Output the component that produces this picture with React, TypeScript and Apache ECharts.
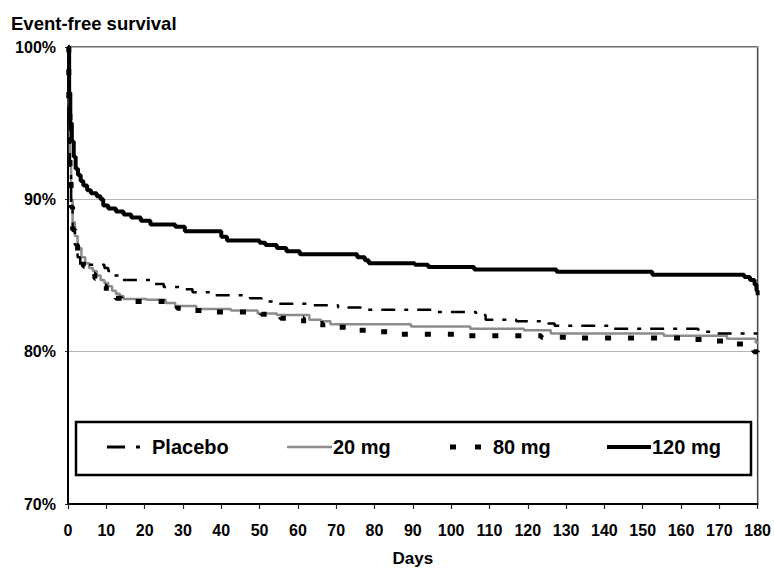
import React, { useEffect, useRef } from "react";
import * as echarts from "echarts";

// ---- data (day, event-free survival %) ----
const seriesNames = ["Placebo", "20 mg", "80 mg", "120 mg"];

const placeboPoints: [number, number][] = [
  [0, 100], [0.2, 96], [0.5, 92], [0.8, 89.5], [1.2, 88], [1.8, 87], [2.5, 86.2],
  [3.2, 85.7], [9.5, 85.5], [10.5, 85.3], [11.5, 85.0], [13.5, 84.7], [21.5, 84.45],
  [25, 84.25], [29, 84.1], [32.5, 83.9], [38.5, 83.7], [47.5, 83.5], [50.5, 83.3],
  [55, 83.15], [63, 83.05], [70.5, 82.9], [77.5, 82.75], [95.5, 82.6], [106.5, 82.4],
  [109, 82.1], [117, 82.0], [123.5, 81.85], [127, 81.7], [141.5, 81.5], [164.5, 81.3],
  [169.5, 81.2], [180, 81.2],
];

const mg20Points: [number, number][] = [
  [0, 100], [0.2, 96], [0.5, 92.5], [0.8, 90], [1.2, 88.5], [1.8, 87.6], [2.5, 86.8],
  [3.5, 86.2], [4.5, 85.8], [5.5, 85.5], [6.5, 85.3], [7.5, 85.0], [8.5, 84.7],
  [9.5, 84.5], [10.5, 84.3], [11.5, 84.0], [12.5, 83.8], [13.5, 83.65], [14.5, 83.45],
  [20.5, 83.4], [25.5, 83.2], [28, 83.0], [33.5, 82.8], [42.5, 82.7], [49.5, 82.5],
  [54.5, 82.4], [63, 82.1], [66, 82.0], [68.5, 81.8], [89.5, 81.65], [105, 81.5],
  [119, 81.4], [126, 81.2], [155.5, 81.05], [172, 80.85], [179.5, 80.6], [180, 80.5],
];

const mg80Points: [number, number][] = [
  [0, 100], [0.2, 96], [0.5, 92], [0.8, 89.5], [1.2, 88], [1.8, 87], [2.5, 86.4],
  [3.2, 86.0], [4, 85.6], [5, 85.3], [6, 85.1], [7, 84.8], [8, 84.5], [9, 84.3],
  [10, 84.0], [11, 83.8], [12.5, 83.5], [14, 83.3], [26.5, 83.1], [28.5, 82.85],
  [32, 82.7], [37, 82.6], [50.5, 82.45], [55.5, 82.2], [61.5, 81.85], [66.5, 81.6],
  [72.5, 81.4], [79, 81.3], [85, 81.15], [103.5, 81.05], [123.5, 80.95], [130, 80.9],
  [161.5, 80.8], [167.5, 80.7], [173.5, 80.5], [177, 80.3], [179, 80.0], [180, 79.7],
];

const mg120Points: [number, number][] = [
  [0, 100], [0.3, 97], [0.6, 95], [1, 93.8], [1.5, 92.8], [2, 92], [2.6, 91.6],
  [3.3, 91.2], [4, 90.9], [5, 90.6], [6, 90.4], [7.5, 90.2], [8.5, 90.0], [9.2, 89.6],
  [10.5, 89.4], [12.5, 89.2], [14.5, 89.0], [16.5, 88.8], [19, 88.6], [21.5, 88.35],
  [28, 88.2], [30.5, 87.9], [40, 87.55], [41.5, 87.3], [50, 87.15], [51.5, 87.0],
  [54.5, 86.8], [57, 86.6], [60.5, 86.4], [75.5, 86.2], [77.5, 86.0], [78.5, 85.8],
  [90.5, 85.7], [94, 85.55], [106, 85.4], [127.5, 85.25], [152.5, 85.05], [176.5, 84.9],
  [178, 84.7], [179.2, 84.4], [179.7, 84.0], [180, 83.7],
];

const xMin = 0;
const xMax = 180;
const xInterval = 10;
const yMin = 70;
const yMax = 100;
const yInterval = 10;

const titleText = "Event-free survival";
const xAxisTitle = "Days";

const FONT = "'Liberation Sans', Arial, Helvetica, sans-serif";

export default function App() {
  const ref = useRef<HTMLDivElement>(null);

  useEffect(() => {
    if (!ref.current) return;
    const chart = echarts.init(ref.current, undefined, { renderer: "svg" });

    const legendY = 447;
    const legendText = (x: number, text: string) => ({
      type: "text",
      x,
      y: legendY,
      style: {
        text,
        fill: "#000",
        font: `bold 20px ${FONT}`,
        textVerticalAlign: "middle",
        textAlign: "left",
      },
      z: 20,
    });

    const option: any = {
      animation: false,
      backgroundColor: "#fff",
      title: {
        text: titleText,
        left: 11,
        top: 14,
        padding: 0,
        textStyle: { fontFamily: FONT, fontWeight: "bold", fontSize: 18.5, color: "#000" },
      },
      grid: {
        left: 68,
        right: 14,
        top: 47,
        bottom: 63,
        show: true,
        borderColor: "#444",
        borderWidth: 1.5,
        backgroundColor: "transparent",
      },
      xAxis: {
        type: "value",
        min: xMin,
        max: xMax,
        interval: xInterval,
        name: xAxisTitle,
        nameLocation: "middle",
        nameGap: 46,
        nameTextStyle: { fontFamily: FONT, fontWeight: "bold", fontSize: 17, color: "#000" },
        axisLine: { show: true, lineStyle: { color: "#000", width: 2 } },
        axisTick: { show: true, length: 5, lineStyle: { color: "#222", width: 1.2 } },
        axisLabel: {
          fontFamily: FONT,
          fontWeight: "bold",
          fontSize: 16,
          color: "#000",
          margin: 18,
        },
        splitLine: { show: false },
      },
      yAxis: {
        type: "value",
        min: yMin,
        max: yMax,
        interval: yInterval,
        axisLine: { show: true, lineStyle: { color: "#000", width: 2 } },
        axisTick: { show: true, length: 3, lineStyle: { color: "#222", width: 1 } },
        axisLabel: {
          formatter: "{value}%",
          fontFamily: FONT,
          fontWeight: "bold",
          fontSize: 16,
          color: "#000",
          margin: 12,
        },
        splitLine: { show: true, lineStyle: { color: "#b5b5b5", width: 1 } },
      },
      series: [
        {
          name: seriesNames[1],
          type: "line",
          step: "end",
          showSymbol: false,
          symbol: "none",
          data: mg20Points,
          lineStyle: { color: "#8c8c8c", width: 2.5 },
          z: 2,
        },
        {
          name: seriesNames[0],
          type: "line",
          step: "end",
          showSymbol: false,
          symbol: "none",
          data: placeboPoints,
          lineStyle: { color: "#000", width: 2.5, type: [14, 9, 4, 9] },
          z: 3,
        },
        {
          name: seriesNames[2],
          type: "line",
          step: "end",
          showSymbol: false,
          symbol: "none",
          data: mg80Points,
          lineStyle: { color: "#000", width: 5, type: [6, 17] },
          z: 4,
        },
        {
          name: seriesNames[3],
          type: "line",
          step: "end",
          showSymbol: false,
          symbol: "none",
          data: mg120Points,
          lineStyle: { color: "#000", width: 4 },
          z: 5,
        },
      ],
      graphic: [
        {
          type: "rect",
          shape: { x: 76, y: 422, width: 675, height: 53 },
          style: { fill: "#fff", stroke: "#000", lineWidth: 2.5 },
          z: 10,
        },
        // Placebo symbol: dash + dot
        {
          type: "line",
          shape: { x1: 107, y1: legendY, x2: 125, y2: legendY },
          style: { stroke: "#000", lineWidth: 3 },
          z: 20,
        },
        {
          type: "line",
          shape: { x1: 136, y1: legendY, x2: 140, y2: legendY },
          style: { stroke: "#000", lineWidth: 3 },
          z: 20,
        },
        legendText(152, seriesNames[0]),
        // 20 mg symbol
        {
          type: "line",
          shape: { x1: 287, y1: legendY, x2: 332, y2: legendY },
          style: { stroke: "#8c8c8c", lineWidth: 2.5 },
          z: 20,
        },
        legendText(333, seriesNames[1]),
        // 80 mg symbol: two squares
        {
          type: "rect",
          shape: { x: 450, y: legendY - 2.5, width: 6, height: 5 },
          style: { fill: "#000" },
          z: 20,
        },
        {
          type: "rect",
          shape: { x: 475, y: legendY - 2.5, width: 6, height: 5 },
          style: { fill: "#000" },
          z: 20,
        },
        legendText(493, seriesNames[2]),
        // 120 mg symbol
        {
          type: "line",
          shape: { x1: 607, y1: legendY, x2: 651, y2: legendY },
          style: { stroke: "#000", lineWidth: 4 },
          z: 20,
        },
        legendText(652, seriesNames[3]),
      ],
    };

    chart.setOption(option);
    return () => chart.dispose();
  }, []);

  return (
    <div
      ref={ref}
      style={{ position: "fixed", left: 0, top: 0, width: 774, height: 572, background: "#fff" }}
    />
  );
}
